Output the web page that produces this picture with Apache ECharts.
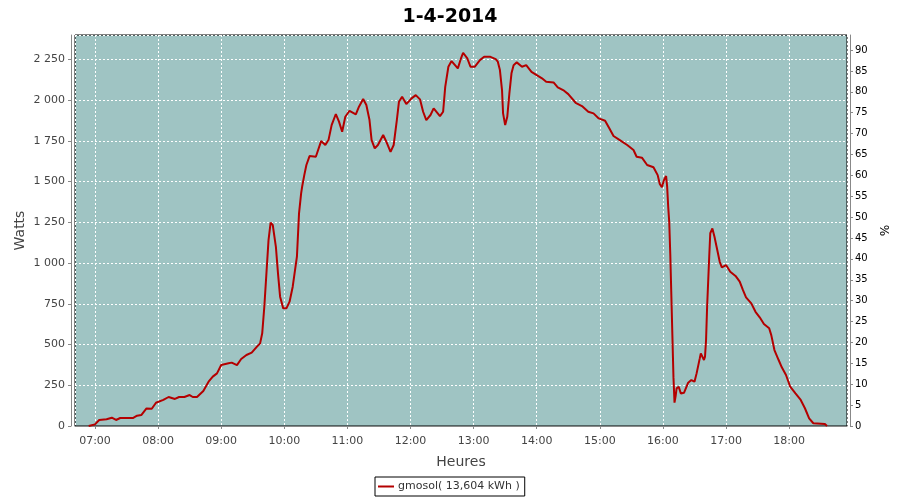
<!DOCTYPE html>
<html>
<head>
<meta charset="utf-8">
<script src="https://cdn.jsdelivr.net/npm/echarts@6/dist/echarts.min.js"></script>
<style>html,body{margin:0;padding:0;background:#fff}#c{width:900px;height:500px}</style>
</head>
<body>
<div id="c"></div>
<script>
var title = "1-4-2014";
var seriesName = "gmosol( 13,604 kWh )";
var times = ["06:54","07:00","07:04","07:11","07:16","07:20","07:24","07:36","07:40","07:44","07:49","07:54","07:58",
"08:05","08:10","08:16","08:20","08:25","08:30","08:33","08:37","08:43","08:48","08:52","08:56",
"09:00","09:07","09:10","09:15","09:19","09:24","09:29","09:34","09:37","09:39","09:41","09:43","09:45","09:47","09:49","09:52","09:54","09:56","09:59",
"10:02","10:05","10:08","10:12","10:14","10:16","10:17","10:19","10:21","10:24","10:30","10:35","10:39","10:42","10:45","10:49","10:52","10:55","10:58",
"11:02","11:08","11:11","11:15","11:18","11:21","11:23","11:26","11:29","11:34","11:37","11:41","11:44","11:47","11:49","11:52","11:56",
"12:01","12:05","12:09","12:12","12:15","12:19","12:22","12:28","12:31","12:33","12:36","12:39","12:45","12:48","12:50","12:54","12:57",
"13:01","13:06","13:10","13:16","13:21","13:23","13:25","13:27","13:28","13:30","13:32","13:34","13:36","13:38","13:41","13:46","13:50","13:55",
"14:00","14:05","14:09","14:16","14:20","14:26","14:30","14:37","14:43","14:49","14:54","14:59",
"15:05","15:09","15:13","15:19","15:26","15:32","15:35","15:40","15:45","15:51","15:55","15:57","15:59",
"16:01","16:03","16:04","16:05","16:06","16:07","16:08","16:09","16:10","16:11","16:12","16:13","16:15","16:17","16:20","16:24","16:27","16:30","16:32","16:35","16:36","16:39","16:40","16:41","16:42","16:44","16:45","16:47","16:49","16:51","16:54","16:56",
"17:00","17:04","17:09","17:13","17:16","17:19","17:24","17:28","17:32","17:36","17:41","17:43","17:46","17:50","17:53","17:57",
"18:01","18:06","18:11","18:15","18:19","18:23","18:34","18:36"];
var watts = [0,10,37,41,51,37,49,49,63,67,108,106,143,
160,178,166,178,178,190,178,178,215,272,303,323,
374,385,389,374,411,436,450,487,507,569,732,937,1141,1248,1234,1100,937,794,722,
722,763,855,1039,1305,1428,1470,1540,1602,1657,1653,1749,1725,1755,1847,1915,1868,1806,1898,
1935,1913,1960,2007,1970,1878,1755,1704,1725,1786,1745,1683,1725,1878,1990,2021,1976,
2011,2031,2005,1929,1878,1909,1950,1902,1929,2082,2205,2240,2195,2257,2291,2257,2205,
2205,2246,2266,2266,2252,2236,2185,2062,1919,1847,1898,2042,2165,2215,2232,2205,2215,2174,
2154,2134,2113,2109,2078,2058,2037,1984,1964,1929,1919,1888,
1874,1827,1780,1755,1725,1694,1653,1647,1602,1588,1540,1485,1465,
1510,1534,1469,1346,1250,1050,800,550,300,143,180,231,241,200,204,266,282,272,323,415,446,405,425,528,732,1039,1183,1213,1162,1100,1008,974,
988,947,921,886,835,790,753,701,667,626,600,558,466,405,360,313,
241,200,160,109,47,17,12,0];
var xStart = "06:41", xEnd = "18:55";
var leftMax = 2400, leftStep = 250;
var rightMax = 93.6, rightStep = 5;

function toDate(s){var p=s.split(":");return new Date(2014,3,1,+p[0],+p[1]).getTime();}
var data = times.map(function(t,i){return [toDate(t), watts[i]];});
function pad(n){return (n<10?"0":"")+n;}
var chart = echarts.init(document.getElementById('c'));
var tickFont = {color:'#444', fontFamily:'DejaVu Sans', fontSize:11};
chart.setOption({
  backgroundColor:'#fff',
  animation:false,
  title:{text:title, left:'center', top:3, textStyle:{fontFamily:'DejaVu Sans', fontSize:19, fontWeight:'bold', color:'#000'}},
  legend:{left:375, top:477, padding:[4,5,4,3], borderColor:'#000', borderWidth:1, borderRadius:0,
    itemWidth:16, itemHeight:2, icon:'rect', itemGap:4,
    textStyle:{fontFamily:'DejaVu Sans', fontSize:11, color:'#333', padding:[0,0,0,-1]}, data:[seriesName]},
  grid:{left:75, right:53, top:35, bottom:74, show:true, backgroundColor:'#9fc4c3', borderColor:'#000', borderWidth:1, containLabel:false},
  xAxis:{type:'time', min:toDate(xStart), max:toDate(xEnd), minInterval:3600000, maxInterval:3600000, offset:4,
    name:'Heures', nameLocation:'middle', nameGap:25, nameMoveOverlap:false, nameTextStyle:{fontFamily:'DejaVu Sans', fontSize:14, color:'#444'},
    axisLine:{lineStyle:{color:'#888'}}, axisTick:{show:true, length:3, lineStyle:{color:'#888'}},
    axisLabel:Object.assign({margin:6, formatter:function(v){var d=new Date(v);return pad(d.getHours())+":"+pad(d.getMinutes());}}, tickFont),
    splitLine:{show:true, lineStyle:{color:'#fff', type:[2,2], width:1}}},
  yAxis:[{type:'value', min:0, max:leftMax, interval:leftStep, offset:4, position:'left',
    name:'Watts', nameLocation:'middle', nameGap:44, nameMoveOverlap:false, nameTextStyle:{fontFamily:'DejaVu Sans', fontSize:14, color:'#444'},
    axisLine:{show:true, lineStyle:{color:'#888'}}, axisTick:{show:true, length:3, lineStyle:{color:'#888'}},
    axisLabel:Object.assign({margin:6, showMaxLabel:false, formatter:function(v){return String(v).replace(/\B(?=(\d{3})+(?!\d))/g,' ');}}, tickFont),
    splitLine:{show:true, lineStyle:{color:'#fff', type:[2,2], width:1}}},
   {type:'value', min:0, max:rightMax, interval:rightStep, offset:3, position:'right',
    name:'%', nameLocation:'middle', nameGap:27, nameRotate:-90, nameMoveOverlap:false, nameTextStyle:{fontFamily:'DejaVu Sans', fontSize:12, color:'#000'},
    axisLine:{show:true, lineStyle:{color:'#888'}}, axisTick:{show:true, length:3, lineStyle:{color:'#888'}},
    axisLabel:{margin:5, color:'#000', fontFamily:'DejaVu Sans', fontSize:10, showMaxLabel:false},
    splitLine:{show:false}}],
  series:[{name:seriesName, type:'line', data:data, showSymbol:false, symbol:'none', color:'#b40000',
    lineStyle:{color:'#b40000', width:2}, yAxisIndex:0}]
});
</script>
</body>
</html>
